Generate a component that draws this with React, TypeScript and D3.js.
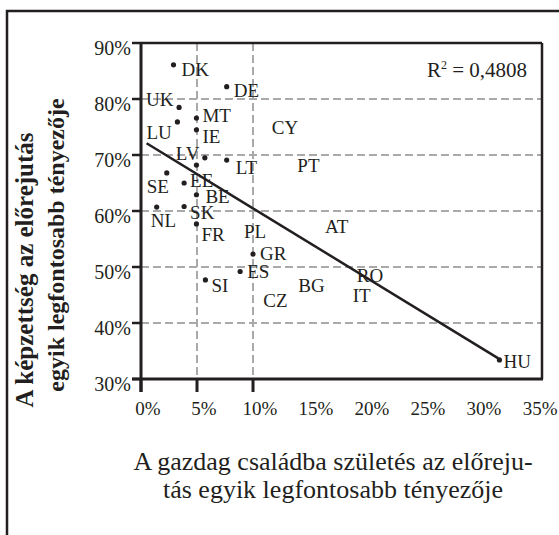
import React from "react";
import * as d3 from "d3";

// ---- data ----
const DOT_CODES = ["DK", "DE", "UK", "LU", "MT", "IE", "LV", "", "LT", "SE", "EE", "BE", "NL", "SK", "FR", "GR", "ES", "SI", "HU"];
const DOT_X = [2.9, 7.65, 3.4, 3.25, 4.95, 4.95, 5.7, 4.95, 7.65, 2.3, 3.85, 4.95, 1.4, 3.85, 4.95, 10.0, 8.85, 5.75, 32.0];
const DOT_Y = [86.1, 82.2, 78.5, 75.9, 76.6, 74.5, 69.5, 68.2, 69.1, 66.8, 65.0, 62.9, 60.7, 60.8, 57.7, 52.3, 49.2, 47.7, 33.4];

const TEXT_CODES = ["CY", "PT", "AT", "PL", "CZ", "BG", "RO", "IT"];
const TEXT_X = [11.67, 13.96, 16.43, 9.2, 10.92, 14.04, 19.26, 18.9];
const TEXT_Y = [73.7, 67.0, 56.0, 55.1, 42.9, 45.5, 47.4, 43.7];

const Y_TICKS = [30, 40, 50, 60, 70, 80, 90];
const Y_GRID = [40, 50, 60, 70, 80];
const X_TICKS_MARKED = [0, 5, 10];
const X_GRID = [5, 10];
const X_TICK_LABELS = [0, 5, 10, 15, 20, 25, 30, 35];

const REG_INTERCEPT = 72.7;
const REG_SLOPE = -1.223;
const REG_X_FROM = 0.5;
const REG_X_TO = 31.9;
const R2_TEXT = "0,4808";

const Y_TITLE = ["A képzettség az előrejutás", "egyik legfontosabb tényezője"];
const X_TITLE = ["A gazdag családba születés az előreju-", "tás egyik legfontosabb tényezője"];

// label offsets (px) relative to dots
const LABEL_OFFSETS: Record<string, [number, number]> = {
  DK: [8, 11], DE: [7, 10], UK: [-33, -1], LU: [-31, 17], MT: [6, 4], IE: [6, 13],
  LV: [-29, 2], LT: [9, 14], SE: [-20, 20], EE: [6, 4], BE: [9, 8], NL: [-6, 20],
  SK: [6, 12], FR: [5, 17], GR: [7, 6], ES: [7, 7], SI: [6, 12], HU: [4, 8],
};

const INK = "#231f20";
const GRID = "#a9a9a9";
const FONT = "Liberation Serif, serif";

export default function App() {
  const W = 559, H = 535;
  const left = 141, right = 542, top = 43, bottom = 379;
  const x = d3.scaleLinear().domain([0, 35.8]).range([left, right]);
  const y = d3.scaleLinear().domain([30, 90]).range([bottom, top]);

  const regData: [number, number][] = [REG_X_FROM, REG_X_TO].map((v) => [v, REG_INTERCEPT + REG_SLOPE * v]);
  const regLine = d3.line<[number, number]>().x((d) => x(d[0])).y((d) => y(d[1]))(regData) || "";
  const ts = { fontFamily: FONT };

  return (
    <svg width={W} height={H} style={{ position: "absolute", left: 0, top: 0, fontFamily: FONT }}>
      <rect x={0} y={0} width={W} height={H} fill="#fff" />
      {/* outer frame */}
      <path d={`M7,${H} V11 H${W}`} fill="none" stroke={INK} strokeWidth={2.5} />

      {/* grid */}
      {Y_GRID.map((v) => (
        <line key={"gy" + v} x1={left} x2={right} y1={y(v)} y2={y(v)} stroke={GRID} strokeWidth={2} strokeDasharray="8 4" />
      ))}
      {X_GRID.map((v) => (
        <line key={"gx" + v} x1={x(v)} x2={x(v)} y1={top} y2={bottom} stroke={GRID} strokeWidth={2} strokeDasharray="8 4" />
      ))}

      {/* plot frame */}
      <line x1={left} x2={right} y1={top} y2={top} stroke={INK} strokeWidth={2.5} />
      <line x1={right} x2={right} y1={top} y2={bottom} stroke={INK} strokeWidth={2.5} />
      <line x1={left} x2={left} y1={top} y2={bottom + 13} stroke={INK} strokeWidth={3} />
      <line x1={left - 9} x2={right + 1} y1={bottom} y2={bottom} stroke={INK} strokeWidth={3} />

      {/* y ticks */}
      {Y_TICKS.map((v) => (
        <g key={"yt" + v}>
          <line x1={left - 9} x2={left} y1={y(v)} y2={y(v)} stroke={INK} strokeWidth={2.5} />
          <text style={ts} x={left - 10} y={y(v) + 12} textAnchor="end" fontSize={20} fill={INK}>{v}%</text>
        </g>
      ))}
      {/* x ticks */}
      {X_TICKS_MARKED.map((v) => (
        <line key={"xt" + v} x1={x(v)} x2={x(v)} y1={bottom} y2={bottom + 13} stroke={INK} strokeWidth={3} />
      ))}
      {X_TICK_LABELS.map((v) => (
        <text style={ts} key={"xl" + v} x={x(v) + 7} y={415} textAnchor="middle" fontSize={19} fill={INK}>{v}%</text>
      ))}

      {/* regression */}
      <path d={regLine} fill="none" stroke={INK} strokeWidth={2.5} />

      {/* dots */}
      {DOT_CODES.map((c, i) => (
        <g key={"d" + i}>
          <circle cx={x(DOT_X[i])} cy={y(DOT_Y[i])} r={2.6} fill={INK} />
          {c && (
            <text style={ts} x={x(DOT_X[i]) + LABEL_OFFSETS[c][0]} y={y(DOT_Y[i]) + LABEL_OFFSETS[c][1]} fontSize={19} fill={INK}>{c}</text>
          )}
        </g>
      ))}
      {TEXT_CODES.map((c, i) => (
        <text style={ts} key={"t" + c} x={x(TEXT_X[i])} y={y(TEXT_Y[i])} fontSize={19} fill={INK}>{c}</text>
      ))}

      {/* R² */}
      <text style={ts} x={527} y={77} textAnchor="end" fontSize={21} fill={INK}>
        R<tspan fontSize={12} dy={-8}>2</tspan><tspan dy={8}> = {R2_TEXT}</tspan>
      </text>

      {/* y title */}
      <text style={ts} transform="translate(33,270) rotate(-90)" textAnchor="middle" fontSize={25} fontWeight="bold" fill={INK}>{Y_TITLE[0]}</text>
      <text style={ts} transform="translate(64,245) rotate(-90)" textAnchor="middle" fontSize={24} fontWeight="bold" fill={INK}>{Y_TITLE[1]}</text>

      {/* x title */}
      <text style={ts} x={333} y={470} textAnchor="middle" fontSize={26} fill={INK}>{X_TITLE[0]}</text>
      <text style={ts} x={333} y={498} textAnchor="middle" fontSize={26} fill={INK}>{X_TITLE[1]}</text>
    </svg>
  );
}
